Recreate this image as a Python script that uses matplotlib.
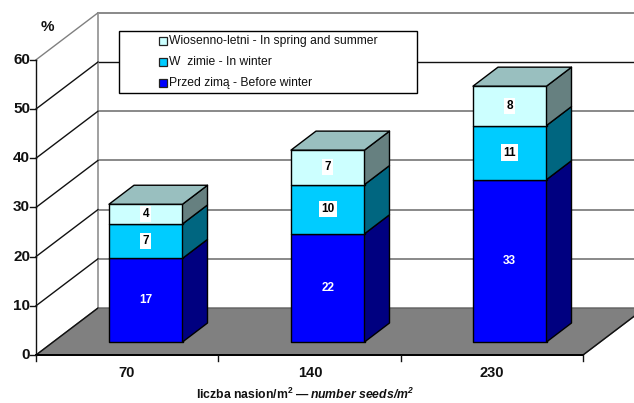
import matplotlib
matplotlib.use("Agg")
import matplotlib.pyplot as plt
from matplotlib.patches import Polygon, Rectangle

plt.rcParams['font.family'] = ['Liberation Sans', 'DejaVu Sans']
plt.rcParams['mathtext.fontset'] = 'custom'
plt.rcParams['mathtext.rm'] = 'Liberation Sans:bold'
plt.rcParams['mathtext.it'] = 'Liberation Sans:bold:italic'

categories = ['70', '140', '230']
before_winter = [17, 22, 33]
in_winter = [7, 10, 11]
spring_summer = [4, 7, 8]
y_ticks = [0, 10, 20, 30, 40, 50, 60]
legend_labels = ['Wiosenno-letni - In spring and summer',
                 'W  zimie - In winter',
                 'Przed zimą - Before winter']

W, H = 634, 403
Y0_PX, UNIT_PX = 355.0, 4.92   # pixel row of value 0, pixels per percent

fig = plt.figure(figsize=(W / 100, H / 100), dpi=100, facecolor='white')
ax = fig.add_axes([0, 0, 1, 1])
ax.set_xlim(0, W)
ax.set_ylim(-(H - Y0_PX) / UNIT_PX, Y0_PX / UNIT_PX)
ax.axis('off')


def px(row):
    """Convert a pixel row to the value scale of the y axis."""
    return (Y0_PX - row) / UNIT_PX


# Chart box geometry
left, right = 36, 583
depth_x, depth_y = 62, 47 / UNIT_PX
grid_colors = {50: '#111111'}

# Floor
ax.add_patch(Polygon([(left, 0), (right, 0), (right + depth_x, depth_y), (left + depth_x, depth_y)],
                     closed=True, fc='#808080', ec='#606060', lw=1, zorder=1))

# Back wall grid and side wall diagonals
for v in y_ticks:
    ax.plot([left, left + depth_x], [v, v + depth_y], color='#808080' if v == 60 else '#111111', lw=1, zorder=2)
    if v > 0:
        ax.plot([left + depth_x, W], [v + depth_y, v + depth_y],
                color=grid_colors.get(v, '#808080'), lw=1.3 if v != 50 else 1, zorder=1.5)
ax.plot([left + depth_x] * 2, [depth_y, 60 + depth_y], color='#a0a0a0', lw=1.4, zorder=1.5)

# Front axes
ax.plot([left, left], [0, 60], color='#111111', lw=1, zorder=6)
ax.plot([left, right], [0, 0], color='black', lw=1.4, zorder=6)
ax.plot([right, right + depth_x], [0, depth_y], color='#111111', lw=1, zorder=2)
for v in y_ticks:
    ax.plot([left - 6, left], [v, v], color='#111111', lw=1, zorder=6)
    ax.text(30, v, str(v), ha='right', va='center', fontsize=11, fontweight='bold', color='#111111')
for i in range(len(categories) + 1):
    x = left + (right - left) * i / len(categories)
    ax.plot([x, x], [0, px(361)], color='#111111', lw=1, zorder=6)

# Stacked 3D columns
bar_lefts = [109, 291, 473]
bar_w = 73.5
bar_dx, bar_dy = 25, 19 / UNIT_PX
base = px(342)
stack = [(before_winter, '#0000FF', '#000080', 'white', None),
         (in_winter, '#00CCFF', '#006680', 'black', 'white'),
         (spring_summer, '#CCFFFF', '#668080', 'black', 'white')]
edge = dict(ec='black', lw=1, joinstyle='round')
for i, bx in enumerate(bar_lefts):
    bottom = base
    for values, front, side, txt, bg in stack:
        top = bottom + values[i]
        ax.add_patch(Rectangle((bx, bottom), bar_w, values[i], fc=front, zorder=4, **edge))
        ax.add_patch(Polygon([(bx + bar_w, bottom), (bx + bar_w + bar_dx, bottom + bar_dy),
                              (bx + bar_w + bar_dx, top + bar_dy), (bx + bar_w, top)],
                             closed=True, fc=side, zorder=4, **edge))
        bbox = dict(fc=bg, ec='none', pad=1.5) if bg else None
        ax.text(bx + bar_w / 2, (bottom + top) / 2, str(values[i]), ha='center', va='center',
                fontsize=8.5, fontweight='bold', color=txt, bbox=bbox, zorder=5)
        bottom = top
    ax.add_patch(Polygon([(bx, bottom), (bx + bar_w, bottom),
                          (bx + bar_w + bar_dx, bottom + bar_dy), (bx + bar_dx, bottom + bar_dy)],
                         closed=True, fc='#99BFBF', zorder=4, **edge))

# Legend box
ax.add_patch(Rectangle((118.5, px(93)), 298, px(30.5) - px(93), fc='white', ec='black', lw=1, zorder=7))
for label, color, row in zip(legend_labels, ['#CCFFFF', '#00CCFF', '#0000FF'], [41, 62, 83]):
    ax.add_patch(Rectangle((158.5, px(row + 4)), 8, 8 / UNIT_PX, fc=color, ec='#222222', lw=0.9, zorder=8))
    ax.text(169, px(row), label, ha='left', va='center', fontsize=8.75, color='#111111', zorder=8)

# Axis annotations
ax.text(47, px(27), '%', ha='center', va='center', fontsize=11, fontweight='bold', color='#111111')
for label, x in zip(categories, [127, 310, 492]):
    ax.text(x, px(373), label, ha='center', va='center', fontsize=10.5, fontweight='bold', color='#111111')
ax.text(310, px(394), r'liczba nasion/m$\mathregular{^2}$ — ', ha='right', va='center',
        fontsize=8.8, fontweight='bold', color='#111111')
ax.text(310, px(394), r'number seeds/m$^{\mathregular{2}}$', ha='left', va='center',
        fontsize=8.8, fontweight='bold', style='italic', color='#111111')

fig.savefig('out.png', dpi=100, facecolor='white')
